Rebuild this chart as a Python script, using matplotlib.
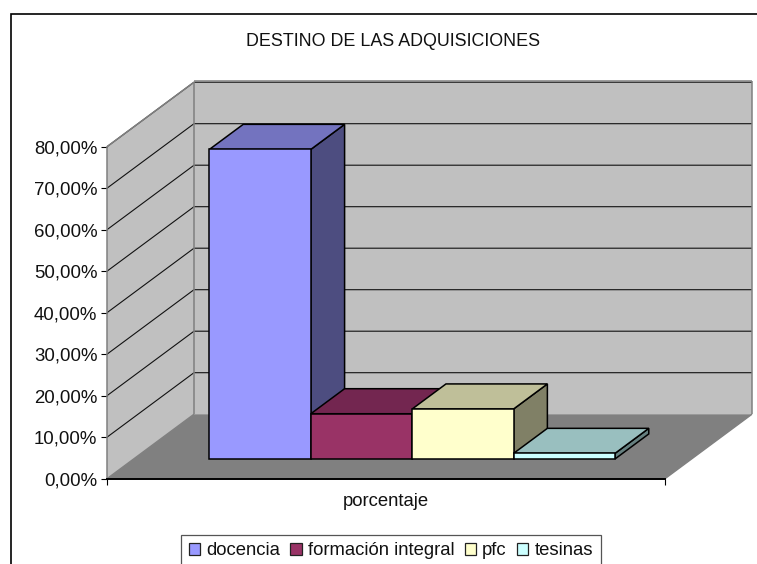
import matplotlib
matplotlib.use("Agg")
import matplotlib.pyplot as plt
from matplotlib.lines import Line2D
from matplotlib.patches import Patch, Polygon
from matplotlib.ticker import FuncFormatter

# data
title = "DESTINO DE LAS ADQUISICIONES"
category = "porcentaje"
series = ["docencia", "formación integral", "pfc", "tesinas"]
values = [74.6, 10.9, 12.05, 1.35]
yticks = [0, 10, 20, 30, 40, 50, 60, 70, 80]

# colours: front, top, side
front_colors = ["#9999FF", "#993366", "#FFFFCC", "#CCFFFF"]
top_colors = ["#7373BF", "#732650", "#BFBF99", "#99BFBF"]
side_colors = ["#4D4D80", "#4D1A33", "#808066", "#668080"]

W, H = 757, 564
plt.rcParams["font.family"] = ["Liberation Sans", "DejaVu Sans"]

fig = plt.figure(figsize=(W / 100, H / 100), dpi=100)
ax = fig.add_axes([107 / W, 1 - 478.7 / H, (665 - 107) / W, (478.7 - 146.7) / H])
ax.set_xlim(0, 1)
ax.set_ylim(0, 80)

# how far the back of the box is shifted, in data units
depth_x = 87 / 558
depth_y = 64.5 / 41.5 * 10


def proj(x, y, d):
    return (x + d * depth_x, y + d * depth_y)


def face(pts, color, edge="none", lw=0, z=1):
    ax.add_patch(Polygon([proj(*p) for p in pts], closed=True, facecolor=color,
                         edgecolor=edge, linewidth=lw, zorder=z, clip_on=False,
                         joinstyle="miter"))


def line(pts, color="black", lw=0.8, z=2):
    xs, ys = zip(*[proj(*p) for p in pts])
    ax.plot(xs, ys, color=color, lw=lw, zorder=z, clip_on=False,
            solid_capstyle="butt", solid_joinstyle="miter")


# walls and floor
top = yticks[-1]
face([(0, 0, 1), (1, 0, 1), (1, top, 1), (0, top, 1)], "#C0C0C0")
face([(0, 0, 0), (0, 0, 1), (0, top, 1), (0, top, 0)], "#C0C0C0")
face([(0, 0, 0), (1, 0, 0), (1, 0, 1), (0, 0, 1)], "#808080")

for v in yticks[1:]:
    line([(0, v, 0), (0, v, 1), (1, v, 1)], color="#111111")

line([(0, top, 0), (0, top, 1)], color="#808080", lw=1.1, z=3)
line([(0, top + 0.25, 1), (1, top + 0.25, 1)], color="#808080", lw=1.1, z=3)
line([(0, 0, 1), (0, top, 1)], color="#808080", lw=1.1, z=3)
line([(1, 0, 1), (1, top + 0.25, 1)], color="#808080", lw=1.1, z=3)
line([(0, 0, 0), (0, 0, 1)], color="#808080", lw=1.0, z=3)
line([(1, 0, 0), (1, 0, 1)], color="#808080", lw=1.0, z=3)

# bars, left to right so each one covers the side of the previous one
bar_w = 0.1817
x0 = 0.4993 - bar_w * len(values) / 2
d0, d1 = 0.306, 0.694
for i, v in enumerate(values):
    a, b = x0 + i * bar_w, x0 + (i + 1) * bar_w
    z = 5 + i
    face([(b, 0, d0), (b, 0, d1), (b, v, d1), (b, v, d0)], side_colors[i], "black", 1.1, z)
    face([(a, v, d0), (b, v, d0), (b, v, d1), (a, v, d1)], top_colors[i], "black", 1.1, z)
    face([(a, 0, d0), (b, 0, d0), (b, v, d0), (a, v, d0)], front_colors[i], "black", 1.1, z)

# axes
for s in ["top", "right"]:
    ax.spines[s].set_visible(False)
ax.patch.set_visible(False)
ax.spines["left"].set_color("#808080")
ax.spines["left"].set_linewidth(1.1)
ax.spines["left"].set_zorder(3)
ax.spines["bottom"].set_color("black")
ax.spines["bottom"].set_linewidth(1.4)
ax.spines["bottom"].set_zorder(4)

ax.set_yticks(yticks)
ax.yaxis.set_major_formatter(FuncFormatter(lambda v, p: f"{v:.2f}".replace(".", ",") + "%"))
ax.tick_params(axis="y", length=4.5, width=0.8, labelsize=13.4, pad=2.5, color="black", labelcolor="#111111")
ax.set_xticks([0, 1])
ax.set_xticklabels(["", ""])
ax.tick_params(axis="x", length=4.5, width=0.8, color="black")
ax.set_xticks([0.499], minor=True)
ax.set_xticklabels([category], minor=True)
ax.tick_params(axis="x", which="minor", length=0, labelsize=13.3, pad=10.5, labelcolor="#111111")

fig.text(393 / W, 1 - 41 / H, title, ha="center", va="center", fontsize=12.85, color="#111111")

# outer border, cut by the image on the right and the bottom
fig.add_artist(Line2D([10.5 / W, 10.5 / W, 1], [0, 1 - 14 / H, 1 - 14 / H], color="black", lw=1.2,
                      solid_joinstyle="miter"))

# legend
handles = [Patch(facecolor=c, edgecolor="#222222", linewidth=0.9, label=s) for c, s in zip(front_colors, series)]
leg = fig.legend(handles=handles, loc="upper left", bbox_to_anchor=(181 / W, 1 - 534.5 / H),
                 bbox_transform=fig.transFigure, ncol=4, fontsize=13.3, frameon=True, fancybox=False,
                 framealpha=1, edgecolor="#555555", borderaxespad=0, borderpad=0.42,
                 handlelength=0.62, handleheight=0.62, handletextpad=0.33, columnspacing=0.55)
leg.get_frame().set_linewidth(0.9)
for t in leg.get_texts():
    t.set_color("#111111")

fig.savefig("out.png", dpi=100)
